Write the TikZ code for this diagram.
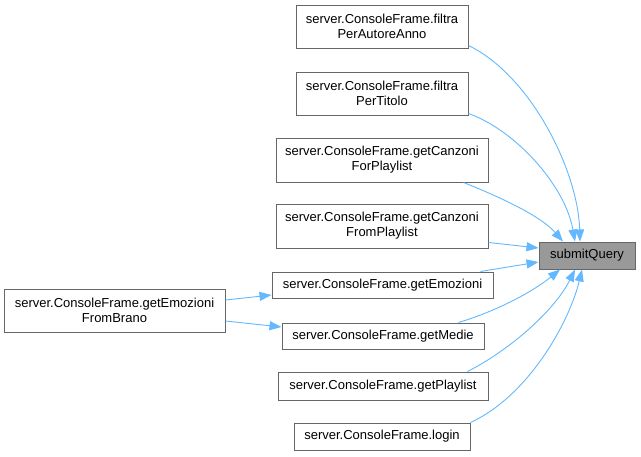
\documentclass[tikz,border=0pt]{standalone}
\usepackage{fontspec}
\setmainfont{Liberation Sans}
\usetikzlibrary{arrows.meta}
\definecolor{edgeblue}{HTML}{63B8FF}
\definecolor{boxborder}{HTML}{666666}
\definecolor{hilite}{HTML}{999999}
\tikzset{
  box/.style={draw=boxborder, line width=1pt, fill=white, inner sep=0pt, align=center,
    font=\fontsize{13}{15}\selectfont, text=black},
  mainbox/.style={box, fill=hilite},
  edge/.style={draw=edgeblue, line width=0.9pt, -{Triangle[length=12pt,width=9pt,fill=edgeblue]}}
}
\begin{document}
\begin{tikzpicture}[x=1pt,y=-1pt]
\useasboundingbox (0,0) rectangle (641,456);
\node[box, minimum width=172pt, minimum height=43pt] (A) at (382,26.5) {server.ConsoleFrame.filtra\\PerAutoreAnno};
\node[box, minimum width=172pt, minimum height=43pt] (B) at (382,93.5) {server.ConsoleFrame.filtra\\PerTitolo};
\node[box, minimum width=212pt, minimum height=44pt] (C) at (382,160) {server.ConsoleFrame.getCanzoni\\ForPlaylist};
\node[box, minimum width=212pt, minimum height=44pt] (D) at (382,226) {server.ConsoleFrame.getCanzoni\\FromPlaylist};
\node[box, minimum width=221pt, minimum height=26pt] (E) at (382.5,285) {server.ConsoleFrame.getEmozioni};
\node[box, minimum width=202pt, minimum height=26pt] (F) at (383,336) {server.ConsoleFrame.getMedie};
\node[box, minimum width=210pt, minimum height=28pt] (G) at (383,386) {server.ConsoleFrame.getPlaylist};
\node[box, minimum width=176pt, minimum height=27pt] (H) at (382,436.5) {server.ConsoleFrame.login};
\node[box, minimum width=221pt, minimum height=43pt] (I) at (114.5,310.5) {server.ConsoleFrame.getEmozioni\\FromBrano};
\node[mainbox, minimum width=96pt, minimum height=27pt] (S) at (587,255.5) {submitQuery};

\draw[edge] ([yshift=3pt]A.south east) .. controls (530,75) and (578,170) .. ([xshift=-7pt]S.north);
\draw[edge] ([yshift=2pt]B.south east) .. controls (515,130) and (565,185) .. ([xshift=-12pt]S.north);
\draw[edge] ([xshift=-25pt]C.south east) .. controls (495,195) and (540,215) .. ([xshift=-24pt]S.north);
\draw[edge] ([yshift=6pt]D.south east) -- ([yshift=7.5pt]S.west);
\draw[edge] ([xshift=-13pt]E.north east) -- ([yshift=-6.5pt]S.west);
\draw[edge] ([xshift=-26pt]F.north east) .. controls (500,310) and (535,290) .. ([xshift=-27pt]S.south);
\draw[edge] ([xshift=-21pt]G.north east) .. controls (510,350) and (555,310) .. ([xshift=-12pt]S.south);
\draw[edge] (H.north east) .. controls (530,395) and (570,320) .. ([xshift=-5pt]S.south);
\draw[edge] ([yshift=10.5pt]I.east) -- ([yshift=-10pt]E.west);
\draw[edge] ([yshift=-10.5pt]I.east) -- ([yshift=9pt]F.west);
\end{tikzpicture}
\end{document}
